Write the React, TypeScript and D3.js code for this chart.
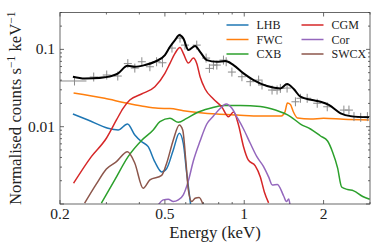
import React from 'react';
import * as d3 from 'd3';

// observed spectrum (grey crosses)
const dataE = [0.227, 0.2685, 0.3008, 0.3313, 0.3617, 0.3845, 0.4088, 0.4386, 0.4651, 0.4894, 0.5319, 0.5706, 0.5959, 0.6604, 0.7167, 0.7378, 0.7641, 0.7871, 0.834, 0.8541, 0.8978, 0.98, 1.054, 1.134, 1.168, 1.275, 1.332, 1.371, 1.454, 1.564, 1.634, 1.733, 1.892, 2.065, 2.388, 2.496, 2.608, 2.766, 2.933];
const dataV = [0.039, 0.0439, 0.0466, 0.0452, 0.0655, 0.0573, 0.0692, 0.0596, 0.0692, 0.0671, 0.104, 0.14, 0.1136, 0.1136, 0.0772, 0.0568, 0.0627, 0.0627, 0.0727, 0.0692, 0.0509, 0.0443, 0.0382, 0.0401, 0.0346, 0.0298, 0.0298, 0.0313, 0.0316, 0.021, 0.0233, 0.0233, 0.0201, 0.0181, 0.0164, 0.0164, 0.0135, 0.0132, 0.0135];
const firstBin = [0.2, 0.252];

// total model (black)
const totalE = [0.2239, 0.248, 0.2668, 0.2955, 0.3322, 0.3607, 0.3845, 0.4198, 0.4581, 0.5001, 0.5227, 0.5461, 0.5671, 0.5872, 0.6137, 0.6508, 0.68, 0.7211, 0.7871, 0.8465, 0.9105, 0.9938, 1.085, 1.22, 1.371, 1.454, 1.541, 1.634, 1.811, 1.947, 2.094, 2.321, 2.533, 2.974];
const totalV = [0.0443, 0.042, 0.0422, 0.0435, 0.049, 0.0614, 0.0596, 0.0627, 0.0692, 0.0844, 0.108, 0.132, 0.153, 0.1387, 0.098, 0.1103, 0.0931, 0.0727, 0.0692, 0.0706, 0.0627, 0.049, 0.0401, 0.0336, 0.0313, 0.0356, 0.0307, 0.0244, 0.0221, 0.021, 0.0191, 0.0149, 0.0137, 0.0132];

// components
const lhbE = [0.2239, 0.2554, 0.3042, 0.3322, 0.3607, 0.3845, 0.4077, 0.4321, 0.4581, 0.486, 0.5078, 0.5381, 0.5671, 0.5872, 0.605, 0.6228, 0.6266];
const lhbV = [0.01459, 0.01221, 0.00953, 0.00906, 0.01083, 0.00781, 0.0064, 0.00551, 0.0035, 0.0026, 0.00288, 0.005, 0.00822, 0.0061, 0.0025, 0.00113, 0.00095];

const fwcE = [0.2252, 0.2955, 0.3522, 0.4077, 0.4717, 0.5227, 0.5872, 0.68, 0.7871, 0.938, 1.151, 1.383, 1.427, 1.458, 1.497, 1.537, 1.592, 1.784, 2.0, 2.382, 2.974];
const fwcV = [0.02725, 0.02328, 0.02042, 0.01851, 0.01729, 0.01718, 0.01609, 0.01517, 0.01459, 0.01417, 0.01374, 0.01374, 0.01549, 0.02024, 0.01935, 0.01549, 0.01296, 0.01258, 0.01284, 0.01246, 0.01221];

const cxbE = [0.2871, 0.3227, 0.3626, 0.4077, 0.4515, 0.4788, 0.5227, 0.5622, 0.605, 0.6604, 0.7424, 0.834, 0.9655, 1.151, 1.313, 1.497, 1.634, 1.784, 1.947, 2.071, 2.163, 2.26, 2.341, 2.467, 2.601, 2.815, 2.992];
const cxbV = [0.001024, 0.00205, 0.0041, 0.00663, 0.00906, 0.0116, 0.01284, 0.0114, 0.01284, 0.01517, 0.01729, 0.01879, 0.01879, 0.01824, 0.0164, 0.01354, 0.01083, 0.00934, 0.00758, 0.00653, 0.00471, 0.00293, 0.00166, 0.00154, 0.00148, 0.00125, 0.00115];

const cgmE = [0.2252, 0.263, 0.2999, 0.3275, 0.347, 0.368, 0.4077, 0.4581, 0.5001, 0.5227, 0.5461, 0.5706, 0.5872, 0.6137, 0.641, 0.6604, 0.68, 0.7104, 0.7641, 0.8224, 0.8713, 0.9105, 0.9512, 0.9938, 1.0356, 1.1012, 1.151, 1.192, 1.2373];
const cgmV = [0.001856, 0.004097, 0.007085, 0.01221, 0.01729, 0.0221, 0.02645, 0.03287, 0.049, 0.0659, 0.0888, 0.1055, 0.0888, 0.0665, 0.0772, 0.0659, 0.0443, 0.0307, 0.0228, 0.01797, 0.01346, 0.01549, 0.01052, 0.00551, 0.003714, 0.003107, 0.00224, 0.001433, 0.001033];

const corE = [0.4717, 0.4928, 0.5149, 0.5381, 0.5622, 0.5872, 0.6137, 0.641, 0.68, 0.7211, 0.7641, 0.8102, 0.8541, 0.8978, 0.938, 0.9938, 1.054, 1.118, 1.184, 1.2373, 1.278, 1.336, 1.411, 1.445, 1.475, 1.491];
const corV = [0.000974, 0.00113, 0.001153, 0.001074, 0.00113, 0.00131, 0.00199, 0.0036, 0.00653, 0.01083, 0.01374, 0.01718, 0.01965, 0.01729, 0.01334, 0.00934, 0.0061, 0.00406, 0.00304, 0.00224, 0.001765, 0.00179, 0.00127, 0.001074, 0.001164, 0.00098];

const swcxE = [0.248, 0.2749, 0.2999, 0.3275, 0.3607, 0.3845, 0.4135, 0.4386, 0.486, 0.5078, 0.5381, 0.5671, 0.5842, 0.6014, 0.6137, 0.6322, 0.6508, 0.6741, 0.6982];
const swcxV = [0.001024, 0.001818, 0.00284, 0.00353, 0.00475, 0.00337, 0.0016, 0.00205, 0.00234, 0.00337, 0.00673, 0.01052, 0.00906, 0.00337, 0.00152, 0.001074, 0.001188, 0.001217, 0.00098];

const xTickVals = [0.2, 0.5, 1, 2];
const xTickLabels = ['0.2', '0.5', '1', '2'];
const yTickVals = [0.01, 0.1];
const yTickLabels = ['0.01', '0.1'];

const components = [
    { name: 'LHB', e: lhbE, v: lhbV, color: '#1f77b4' },
    { name: 'FWC', e: fwcE, v: fwcV, color: '#ff7f0e' },
    { name: 'CXB', e: cxbE, v: cxbV, color: '#2ca02c' },
    { name: 'CGM', e: cgmE, v: cgmV, color: '#d62728' },
    { name: 'Cor', e: corE, v: corV, color: '#9467bd' },
    { name: 'SWCX', e: swcxE, v: swcxV, color: '#8c564b' },
];

const W = 374;
const H = 249;
const margin = { top: 12.5, right: 4, bottom: 45, left: 60 };
const SERIF = 'Liberation Serif';

const App = () => {
    const x = d3.scaleLog().domain([0.2, 3]).range([margin.left, W - margin.right]);
    const y = d3.scaleLog().domain([0.001, 0.3]).range([H - margin.bottom, margin.top]);
    const [x0, x1] = x.range();
    const [y0, y1] = y.range();

    const line = (e: number[], v: number[]) => d3.line<number>()
        .x((d, i) => x(e[i]))
        .y((d, i) => y(v[i]))
        .curve(d3.curveMonotoneX)(v) || '';

    // minor ticks from the log scale
    const xMinor = x.ticks().filter((t) => !xTickVals.includes(t) && t >= 0.2 && t <= 3);
    const yMinor = y.ticks().filter((t) => ![0.001, 0.01, 0.1].includes(+t.toPrecision(3)));
    const yMajor = [0.001, 0.01, 0.1];

    const frame = '#444';

    return (
        <svg width={W} height={H} style={{ position: 'absolute', left: 0, top: 0 }}>
            <style>{`.lbl { font-family: "${SERIF}", "Times New Roman"; fill: #222; }`}</style>
            <defs>
                <clipPath id="plot">
                    <rect x={x0} y={y1} width={x1 - x0} height={y0 - y1} />
                </clipPath>
            </defs>
            <rect width={W} height={H} fill="#fff" />

            <g clipPath="url(#plot)">
                {components.map((c) => (
                    <path key={c.name} d={line(c.e, c.v)} fill="none" stroke={c.color} strokeWidth={1.5} />
                ))}
                {/* data crosses */}
                <g stroke="#8a8a8a" strokeWidth={1}>
                    {dataE.map((e, i) => {
                        const cx = x(e);
                        const cy = y(dataV[i]);
                        const lo = i === 0 ? x(firstBin[0]) : cx - 4;
                        const hi = i === 0 ? x(firstBin[1]) : cx + 4;
                        return (
                            <g key={i}>
                                <line x1={lo} x2={hi} y1={cy} y2={cy} />
                                <line x1={cx} x2={cx} y1={cy - 4.5} y2={cy + 4.5} />
                            </g>
                        );
                    })}
                </g>
                <path d={line(totalE, totalV)} fill="none" stroke="#000" strokeWidth={2} />
            </g>

            {/* frame and ticks */}
            <rect x={x0} y={y1} width={x1 - x0} height={y0 - y1} fill="none" stroke={frame} strokeWidth={0.8} />
            <g stroke={frame} strokeWidth={0.8}>
                {xTickVals.map((t) => (
                    <g key={`xm${t}`}>
                        <line x1={x(t)} x2={x(t)} y1={y0} y2={y0 - 4} />
                        <line x1={x(t)} x2={x(t)} y1={y1} y2={y1 + 4} />
                    </g>
                ))}
                {xMinor.map((t) => (
                    <g key={`xn${t}`}>
                        <line x1={x(t)} x2={x(t)} y1={y0} y2={y0 - 2} />
                        <line x1={x(t)} x2={x(t)} y1={y1} y2={y1 + 2} />
                    </g>
                ))}
                {yMajor.map((t) => (
                    <g key={`ym${t}`}>
                        <line x1={x0} x2={x0 + 4} y1={y(t)} y2={y(t)} />
                        <line x1={x1} x2={x1 - 4} y1={y(t)} y2={y(t)} />
                    </g>
                ))}
                {yMinor.map((t) => (
                    <g key={`yn${t}`}>
                        <line x1={x0} x2={x0 + 2} y1={y(t)} y2={y(t)} />
                        <line x1={x1} x2={x1 - 2} y1={y(t)} y2={y(t)} />
                    </g>
                ))}
            </g>

            {/* tick labels */}
            {xTickVals.map((t, i) => (
                <text key={t} className="lbl" x={x(t)} y={y0 + 15} textAnchor="middle" fontSize={15.5} fontFamily={SERIF}>{xTickLabels[i]}</text>
            ))}
            {yTickVals.map((t, i) => (
                <text key={t} className="lbl" x={x0 - 5} y={y(t) + 5} textAnchor="end" fontSize={15.5} fontFamily={SERIF}>{yTickLabels[i]}</text>
            ))}

            {/* axis labels */}
            <text className="lbl" x={(x0 + x1) / 2} y={238} textAnchor="middle" fontSize={16.8} fontFamily={SERIF}>Energy (keV)</text>
            <text className="lbl" transform={`translate(21,${(y0 + y1) / 2}) rotate(-90)`} textAnchor="middle" fontSize={16.8} fontFamily={SERIF}>
                Normalised counts s
                <tspan dy={-6.5} fontSize={11.5}>−1</tspan>
                <tspan dy={6.5}> keV</tspan>
                <tspan dy={-6.5} fontSize={11.5}>−1</tspan>
            </text>

            {/* legend */}
            {components.map((c, i) => {
                const col = Math.floor(i / 3);
                const row = i % 3;
                const lx = 226.5 + col * 75;
                const ly = 25 + row * 14.5;
                return (
                    <g key={c.name}>
                        <line x1={lx} x2={lx + 22} y1={ly} y2={ly} stroke={c.color} strokeWidth={1.5} />
                        <text className="lbl" x={lx + 30} y={ly + 4.2} fontSize={12} fontFamily={SERIF}>{c.name}</text>
                    </g>
                );
            })}
        </svg>
    );
};

export default App;
